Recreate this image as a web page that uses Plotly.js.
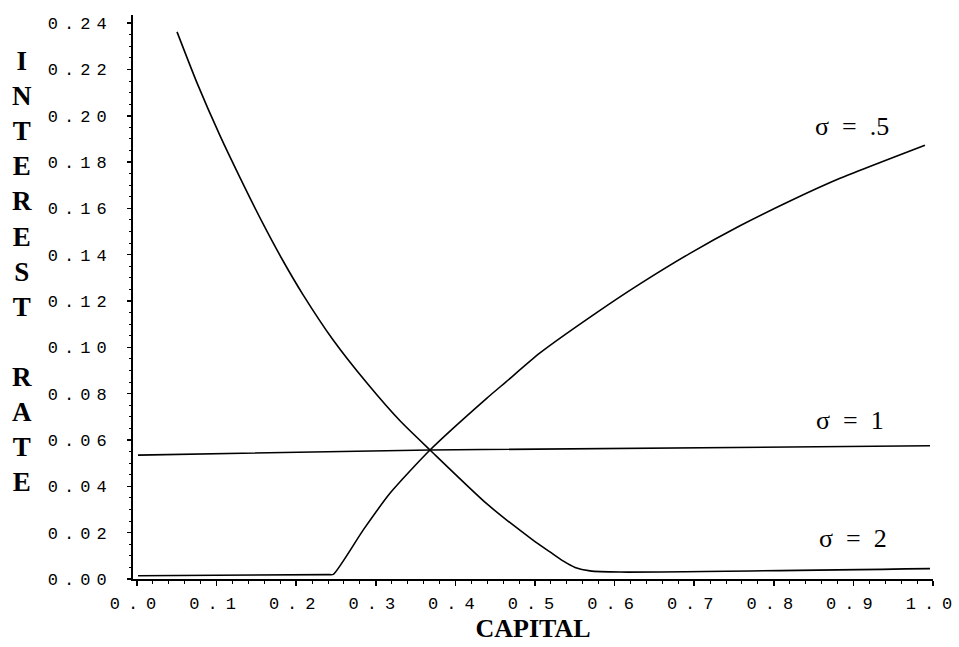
<!DOCTYPE html>
<html>
<head>
<meta charset="utf-8">
<script src="https://cdn.plot.ly/plotly-3.0.1.min.js"></script>
<style>
  html, body { margin: 0; padding: 0; background: #ffffff; }
  #chart { width: 959px; height: 647px; }
  #chart .ytick text { letter-spacing: 6px; }
  #chart .xtick text { letter-spacing: 8px; }
</style>
</head>
<body>
<div id="chart"></div>
<script>
// ---- data ----
// sigma = .5 (rising curve)
const capitalSigmaHalf = [0.0013, 0.2400, 0.2466, 0.2843, 0.3178, 0.3681, 0.4393, 0.4636, 0.5063, 0.5775, 0.6319, 0.6947, 0.7575, 0.8204, 0.8832, 0.9899];
const rateSigmaHalf    = [0.0014, 0.0019, 0.0020, 0.0212, 0.0370, 0.0557, 0.0780, 0.0851, 0.0976, 0.1150, 0.1274, 0.1406, 0.1525, 0.1632, 0.1730, 0.1873];

// sigma = 1 (nearly flat line)
const capitalSigmaOne = [0.0013, 0.3681, 0.9962];
const rateSigmaOne    = [0.0535, 0.0557, 0.0575];

// sigma = 2 (falling curve)
const capitalSigmaTwo = [0.0503, 0.0754, 0.1043, 0.1294, 0.1583, 0.1834, 0.2085, 0.2462, 0.2889, 0.3304, 0.3681, 0.4397, 0.4975, 0.5188, 0.5352, 0.5503, 0.5691, 0.6068, 0.9962];
const rateSigmaTwo    = [0.2362, 0.2142, 0.1914, 0.1733, 0.1534, 0.1374, 0.1228, 0.1033, 0.0846, 0.0683, 0.0557, 0.0324, 0.0168, 0.0117, 0.0078, 0.0050, 0.0035, 0.0030, 0.0045];

const seriesLabels = ["\u03C3\u00A0\u00A0=\u00A0\u00A0.5", "\u03C3\u00A0\u00A0=\u00A0\u00A01", "\u03C3\u00A0\u00A0=\u00A0\u00A02"];

const xTickValues = [0.0, 0.1, 0.2, 0.3, 0.4, 0.5, 0.6, 0.7, 0.8, 0.9, 1.0];
const xTickLabels = ["0.0", "0.1", "0.2", "0.3", "0.4", "0.5", "0.6", "0.7", "0.8", "0.9", "1.0"];
const yTickValues = [0.00, 0.02, 0.04, 0.06, 0.08, 0.10, 0.12, 0.14, 0.16, 0.18, 0.20, 0.22, 0.24];
const yTickLabels = ["0.00", "0.02", "0.04", "0.06", "0.08", "0.10", "0.12", "0.14", "0.16", "0.18", "0.20", "0.22", "0.24"];

const xTitle = "CAPITAL";
const yTitleLetters = ["I", "N", "T", "E", "R", "E", "S", "T", "\u00A0", "R", "A", "T", "E"];

// ---- drawing ----
const lineStyle = { color: "#000000", width: 1.6, shape: "spline", smoothing: 0.6 };

const traces = [
  { x: capitalSigmaHalf, y: rateSigmaHalf, type: "scatter", mode: "lines", line: lineStyle, hoverinfo: "skip" },
  { x: capitalSigmaOne,  y: rateSigmaOne,  type: "scatter", mode: "lines", line: { color: "#000000", width: 1.6 }, hoverinfo: "skip" },
  { x: capitalSigmaTwo,  y: rateSigmaTwo,  type: "scatter", mode: "lines", line: lineStyle, hoverinfo: "skip" }
];

const serif = "Liberation Serif, Times New Roman, serif";
const mono = "Liberation Mono, Courier New, monospace";

const layout = {
  width: 959,
  height: 647,
  margin: { l: 133, r: 26, t: 15, b: 68 },
  paper_bgcolor: "#ffffff",
  plot_bgcolor: "#ffffff",
  showlegend: false,
  xaxis: {
    range: [-0.005, 1.0],
    showgrid: false,
    zeroline: false,
    showline: true,
    linecolor: "#000000",
    linewidth: 2,
    ticks: "outside",
    ticklen: 5,
    tickwidth: 1.5,
    tickcolor: "#000000",
    tickvals: xTickValues,
    ticktext: xTickLabels,
    ticklabelstandoff: 3,
    tickfont: { family: mono, size: 17, color: "#000000" },
    minor: { dtick: 0.02, ticks: "outside", ticklen: 3, tickcolor: "#000000", tickwidth: 1 },
    title: { text: xTitle, font: { family: serif, size: 26, color: "#000000", weight: "bold" }, standoff: 3 },
    automargin: false
  },
  yaxis: {
    range: [0, 0.2435],
    showgrid: false,
    zeroline: false,
    showline: true,
    linecolor: "#000000",
    linewidth: 2,
    ticks: "outside",
    ticklen: 4,
    tickwidth: 1.5,
    tickcolor: "#000000",
    tickvals: yTickValues,
    ticktext: yTickLabels,
    ticklabelstandoff: 11,
    tickfont: { family: mono, size: 17, color: "#000000" },
    minor: { dtick: 0.005, ticks: "outside", ticklen: 2, tickcolor: "#000000", tickwidth: 1 },
    automargin: false
  },
  annotations: [
    { xref: "x", yref: "y", x: 0.898, y: 0.1955, text: seriesLabels[0], showarrow: false, xanchor: "center", yanchor: "middle", font: { family: serif, size: 26, color: "#000000" } },
    { xref: "x", yref: "y", x: 0.896, y: 0.0684, text: seriesLabels[1], showarrow: false, xanchor: "center", yanchor: "middle", font: { family: serif, size: 26, color: "#000000" } },
    { xref: "x", yref: "y", x: 0.899, y: 0.0177, text: seriesLabels[2], showarrow: false, xanchor: "center", yanchor: "middle", font: { family: serif, size: 26, color: "#000000" } },
    { xref: "paper", yref: "paper", x: -0.139, y: 0.545, text: yTitleLetters.join("<br>"), showarrow: false, xanchor: "center", yanchor: "middle", align: "center", font: { family: serif, size: 27, color: "#000000", weight: "bold" } }
  ]
};

Plotly.newPlot("chart", traces, layout, { staticPlot: true, displayModeBar: false });
</script>
</body>
</html>
